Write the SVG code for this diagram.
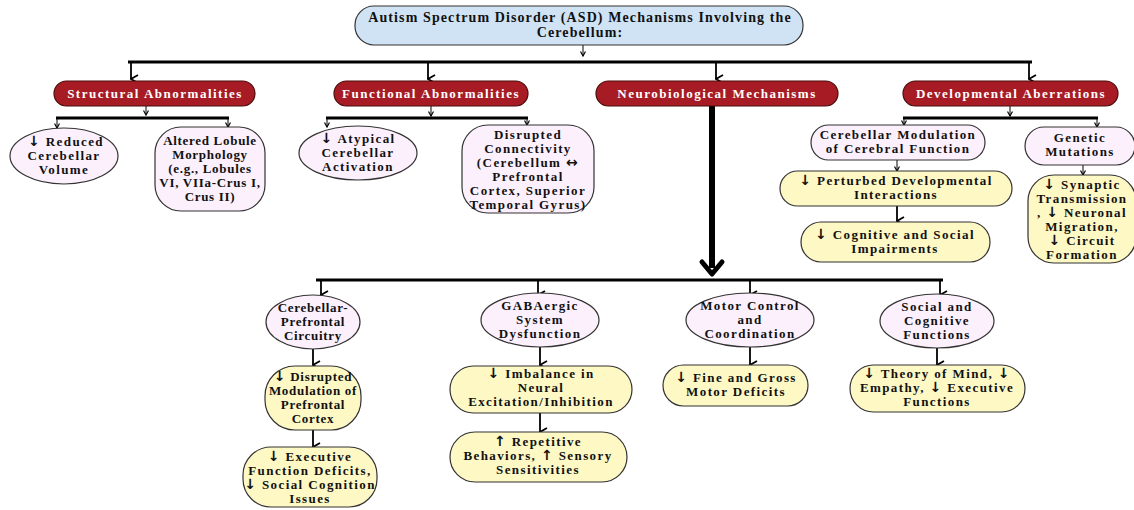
<svg xmlns="http://www.w3.org/2000/svg" width="1134" height="510" viewBox="0 0 1134 510">
<defs>
<style>
.t{font-family:"Liberation Serif","Times New Roman",serif;font-weight:bold;font-size:13px;letter-spacing:1.4px;text-anchor:middle;fill:#111}
.w{fill:#fff;letter-spacing:1.5px}
.ti{font-size:14px;letter-spacing:1.1px}
.n{letter-spacing:0.7px}
.ar{font-family:"DejaVu Sans",sans-serif;font-size:14px;font-weight:bold}
.red{fill:#a61b24;stroke:#4a0c0c;stroke-width:1.2}
.pink{fill:#fcf0fc;stroke:#333;stroke-width:1.2}
.yel{fill:#fdf8c4;stroke:#333;stroke-width:1.2}
.blue{fill:#cfe3f5;stroke:#333;stroke-width:1.2}
.ln{stroke:#000;fill:none}
</style>
<marker id="a" markerWidth="10" markerHeight="10" refX="5" refY="9" orient="auto-start-reverse" markerUnits="userSpaceOnUse" viewBox="0 0 10 10">
<path d="M1,2 L5,9 L9,2" fill="none" stroke="#000" stroke-width="1.8"/>
</marker>
<marker id="s" markerWidth="6" markerHeight="6" refX="3" refY="5.5" markerUnits="userSpaceOnUse" viewBox="0 0 6 6">
<path d="M0.5,1 L3,5.5 L5.5,1" fill="none" stroke="#000" stroke-width="1.2"/>
</marker>
</defs>
<rect width="1134" height="510" fill="#fff"/>
<g id="connectors">
<line class="ln" x1="583" y1="45" x2="583" y2="56" stroke-width="1" marker-end="url(#s)"/>
<line class="ln" x1="128" y1="62" x2="1032" y2="62" stroke-width="3"/>
<line class="ln" x1="131" y1="62" x2="131" y2="79" stroke-width="1.8" marker-end="url(#a)"/>
<line class="ln" x1="428" y1="62" x2="428" y2="79" stroke-width="1.8" marker-end="url(#a)"/>
<line class="ln" x1="716" y1="62" x2="716" y2="79" stroke-width="1.8" marker-end="url(#a)"/>
<line class="ln" x1="1029" y1="62" x2="1029" y2="79" stroke-width="1.8" marker-end="url(#a)"/>
<line class="ln" x1="146" y1="106" x2="146" y2="115" stroke-width="1" marker-end="url(#s)"/>
<line class="ln" x1="56" y1="118" x2="229" y2="118" stroke-width="3"/>
<line class="ln" x1="57" y1="118" x2="57" y2="128" stroke-width="1" marker-end="url(#s)"/>
<line class="ln" x1="228" y1="118" x2="228" y2="127" stroke-width="1" marker-end="url(#s)"/>
<line class="ln" x1="431" y1="106" x2="431" y2="116" stroke-width="1" marker-end="url(#s)"/>
<line class="ln" x1="326" y1="118" x2="528" y2="118" stroke-width="3"/>
<line class="ln" x1="327" y1="118" x2="327" y2="127" stroke-width="1" marker-end="url(#s)"/>
<line class="ln" x1="527" y1="118" x2="527" y2="125" stroke-width="1" marker-end="url(#s)"/>
<line class="ln" x1="1010" y1="106" x2="1010" y2="116" stroke-width="1" marker-end="url(#s)"/>
<line class="ln" x1="903" y1="118" x2="1098" y2="118" stroke-width="3"/>
<line class="ln" x1="904" y1="118" x2="904" y2="125" stroke-width="1" marker-end="url(#s)"/>
<line class="ln" x1="1097" y1="118" x2="1097" y2="127" stroke-width="1" marker-end="url(#s)"/>
<line class="ln" x1="897" y1="160" x2="897" y2="171" stroke-width="1" marker-end="url(#s)"/>
<line class="ln" x1="897" y1="206" x2="897" y2="221" stroke-width="1.8" marker-end="url(#a)"/>
<line class="ln" x1="1083" y1="165" x2="1083" y2="175" stroke-width="1" marker-end="url(#s)"/>
<line class="ln" x1="712" y1="106" x2="712" y2="268" stroke-width="6"/>
<path d="M702,262 L712,274 L722,262" fill="none" stroke="#000" stroke-width="5" stroke-linejoin="round" stroke-linecap="round"/>
<line class="ln" x1="316" y1="280" x2="943" y2="280" stroke-width="3"/>
<line class="ln" x1="321" y1="280" x2="321" y2="295" stroke-width="1.8" marker-end="url(#a)"/>
<line class="ln" x1="538" y1="280" x2="538" y2="295" stroke-width="1.8" marker-end="url(#a)"/>
<line class="ln" x1="750" y1="280" x2="750" y2="295" stroke-width="1.8" marker-end="url(#a)"/>
<line class="ln" x1="940" y1="280" x2="940" y2="295" stroke-width="1.8" marker-end="url(#a)"/>
<line class="ln" x1="313" y1="348" x2="313" y2="365" stroke-width="1.8" marker-end="url(#a)"/>
<line class="ln" x1="313" y1="430" x2="313" y2="447" stroke-width="1.8" marker-end="url(#a)"/>
<line class="ln" x1="540" y1="346" x2="540" y2="365" stroke-width="1.8" marker-end="url(#a)"/>
<line class="ln" x1="540" y1="413" x2="540" y2="432" stroke-width="1.8" marker-end="url(#a)"/>
<line class="ln" x1="750" y1="347" x2="750" y2="365" stroke-width="1.8" marker-end="url(#a)"/>
<line class="ln" x1="937" y1="348" x2="937" y2="365" stroke-width="1.8" marker-end="url(#a)"/>
</g>
<g id="title">
<rect class="blue" x="355" y="6" width="448" height="39" rx="19"/>
<text class="t ti" x="580" y="22">Autism Spectrum Disorder (ASD) Mechanisms Involving the</text>
<text class="t ti" x="580" y="37">Cerebellum:</text>
</g>
<g id="structural">
<rect class="red" x="54" y="81" width="201" height="25" rx="12.5"/>
<text class="t w" x="155" y="98">Structural Abnormalities</text>
</g>
<g id="functional">
<rect class="red" x="334" y="81" width="194" height="25" rx="12.5"/>
<text class="t w" x="431" y="98">Functional Abnormalities</text>
</g>
<g id="neurobiological">
<rect class="red" x="596" y="81" width="242" height="25" rx="12.5"/>
<text class="t w" x="717" y="98">Neurobiological Mechanisms</text>
</g>
<g id="developmental">
<rect class="red" x="903" y="81" width="215" height="25" rx="12.5"/>
<text class="t w" x="1011" y="98">Developmental Aberrations</text>
</g>
<g id="reduced-volume">
<ellipse class="pink" cx="64" cy="156" rx="54" ry="28"/>
<text class="t" x="66" y="146"><tspan class="ar">↓</tspan> Reduced</text>
<text class="t" x="64" y="160">Cerebellar</text>
<text class="t" x="64" y="174">Volume</text>
</g>
<g id="altered-lobule">
<rect class="pink" x="155" y="127" width="110" height="84" rx="26"/>
<text class="t n" x="210" y="145">Altered Lobule</text>
<text class="t n" x="210" y="159">Morphology</text>
<text class="t n" x="210" y="173">(e.g., Lobules</text>
<text class="t n" x="210" y="187">VI, VIIa-Crus I,</text>
<text class="t n" x="210" y="201">Crus II)</text>
</g>
<g id="atypical-activation">
<ellipse class="pink" cx="358" cy="153" rx="59" ry="27"/>
<text class="t" x="358" y="143"><tspan class="ar">↓</tspan> Atypical</text>
<text class="t" x="358" y="157">Cerebellar</text>
<text class="t" x="358" y="171">Activation</text>
</g>
<g id="disrupted-connectivity">
<rect class="pink" x="462" y="125" width="132" height="88" rx="26"/>
<text class="t" x="528" y="139">Disrupted</text>
<text class="t" x="528" y="153">Connectivity</text>
<text class="t" x="528" y="167">(Cerebellum <tspan class="ar">↔</tspan></text>
<text class="t" x="528" y="181">Prefrontal</text>
<text class="t" x="528" y="195">Cortex, Superior</text>
<text class="t" x="528" y="209">Temporal Gyrus)</text>
</g>
<g id="cerebellar-modulation">
<rect class="pink" x="811" y="125" width="174" height="35" rx="17.5"/>
<text class="t" x="898" y="139">Cerebellar Modulation</text>
<text class="t" x="898" y="153">of Cerebral Function</text>
</g>
<g id="genetic-mutations">
<rect class="pink" x="1025" y="127" width="110" height="38" rx="19"/>
<text class="t" x="1080" y="142">Genetic</text>
<text class="t" x="1080" y="156">Mutations</text>
</g>
<g id="perturbed">
<rect class="yel" x="780" y="171" width="232" height="35" rx="17.5"/>
<text class="t" x="896" y="185"><tspan class="ar">↓</tspan> Perturbed Developmental</text>
<text class="t" x="896" y="199">Interactions</text>
</g>
<g id="cognitive-social">
<rect class="yel" x="801" y="222" width="189" height="40" rx="20"/>
<text class="t" x="895" y="239"><tspan class="ar">↓</tspan> Cognitive and Social</text>
<text class="t" x="895" y="253">Impairments</text>
</g>
<g id="synaptic">
<rect class="yel" x="1028" y="175" width="108" height="88" rx="26"/>
<text class="t" x="1082" y="189"><tspan class="ar">↓</tspan> Synaptic</text>
<text class="t" x="1082" y="203">Transmission</text>
<text class="t" x="1082" y="217">, <tspan class="ar">↓</tspan> Neuronal</text>
<text class="t" x="1082" y="231">Migration,</text>
<text class="t" x="1082" y="245"><tspan class="ar">↓</tspan> Circuit</text>
<text class="t" x="1082" y="259">Formation</text>
</g>
<g id="cerebellar-prefrontal">
<ellipse class="pink" cx="313" cy="322" rx="47" ry="27"/>
<text class="t n" x="313" y="312">Cerebellar-</text>
<text class="t n" x="313" y="326">Prefrontal</text>
<text class="t n" x="313" y="340">Circuitry</text>
</g>
<g id="gabaergic">
<ellipse class="pink" cx="540" cy="320" rx="59" ry="27"/>
<text class="t" x="540" y="310">GABAergic</text>
<text class="t" x="540" y="324">System</text>
<text class="t" x="540" y="338">Dysfunction</text>
</g>
<g id="motor-control">
<ellipse class="pink" cx="750" cy="320" rx="64" ry="27"/>
<text class="t" x="750" y="310">Motor Control</text>
<text class="t" x="750" y="324">and</text>
<text class="t" x="750" y="338">Coordination</text>
</g>
<g id="social-cognitive">
<ellipse class="pink" cx="937" cy="321" rx="57" ry="27"/>
<text class="t" x="937" y="311">Social and</text>
<text class="t" x="937" y="325">Cognitive</text>
<text class="t" x="937" y="339">Functions</text>
</g>
<g id="disrupted-modulation">
<rect class="yel" x="265" y="366" width="96" height="64" rx="30"/>
<text class="t n" x="313" y="381"><tspan class="ar">↓</tspan> Disrupted</text>
<text class="t n" x="313" y="395">Modulation of</text>
<text class="t n" x="313" y="409">Prefrontal</text>
<text class="t n" x="313" y="423">Cortex</text>
</g>
<g id="executive-deficits">
<rect class="yel" x="243" y="447" width="134" height="60" rx="28"/>
<text class="t" x="310" y="461"><tspan class="ar">↓</tspan> Executive</text>
<text class="t" x="310" y="475">Function Deficits,</text>
<text class="t" x="310" y="489"><tspan class="ar">↓</tspan> Social Cognition</text>
<text class="t" x="310" y="503">Issues</text>
</g>
<g id="imbalance">
<rect class="yel" x="450" y="366" width="182" height="47" rx="23.5"/>
<text class="t" x="541" y="378"><tspan class="ar">↓</tspan> Imbalance in</text>
<text class="t" x="541" y="392">Neural</text>
<text class="t" x="541" y="406">Excitation/Inhibition</text>
</g>
<g id="repetitive">
<rect class="yel" x="450" y="432" width="177" height="50" rx="25"/>
<text class="t" x="538" y="446"><tspan class="ar">↑</tspan> Repetitive</text>
<text class="t" x="538" y="460">Behaviors, <tspan class="ar">↑</tspan> Sensory</text>
<text class="t" x="538" y="474">Sensitivities</text>
</g>
<g id="fine-gross">
<rect class="yel" x="663" y="365" width="145" height="41" rx="20.5"/>
<text class="t" x="736" y="382"><tspan class="ar">↓</tspan> Fine and Gross</text>
<text class="t" x="736" y="396">Motor Deficits</text>
</g>
<g id="theory-of-mind">
<rect class="yel" x="850" y="365" width="175" height="47" rx="23.5"/>
<text class="t" x="937" y="378"><tspan class="ar">↓</tspan> Theory of Mind, <tspan class="ar">↓</tspan></text>
<text class="t" x="937" y="392">Empathy, <tspan class="ar">↓</tspan> Executive</text>
<text class="t" x="937" y="406">Functions</text>
</g>
</svg>
